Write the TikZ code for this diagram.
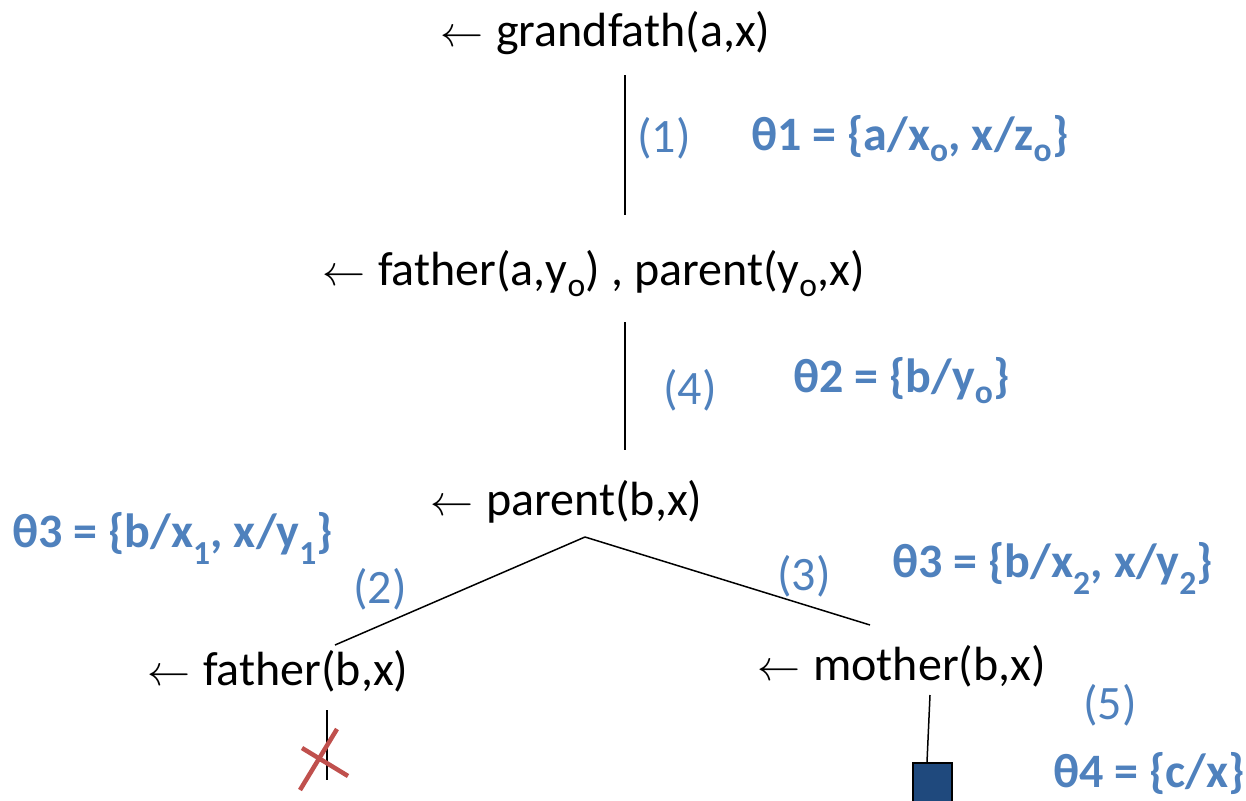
\documentclass[tikz,border=0pt]{standalone}
\usepackage{fontspec}
\setmainfont{Carlito}
\definecolor{lblue}{HTML}{4F81BD}
\definecolor{xred}{HTML}{C0504D}
\definecolor{boxblue}{HTML}{1F497D}
\newcommand{\lar}{\resizebox{43pt}{!}{$\leftarrow$}\hspace{13pt}}
\newcommand{\sbo}[1]{\raisebox{-0.08em}{\textsubscript{#1}}}
\begin{document}
\begin{tikzpicture}[x=1pt,y=-1pt,
  goal/.style={anchor=base west, inner sep=0pt, font=\fontsize{48}{54}\selectfont},
  steplbl/.style={anchor=base west, inner sep=0pt, text=lblue, font=\fontsize{48}{54}\selectfont},
  subst/.style={anchor=base west, inner sep=0pt, text=lblue, font=\fontsize{48}{54}\selectfont\bfseries},
  edge/.style={draw=black, line width=1.5pt},
  cross/.style={draw=xred, line width=4.5pt},
]
\useasboundingbox (0,0) rectangle (1246,800);

% goals
\node[goal] (g0) at (440,47) {\lar grandfath(a,x)};
\node[goal] (g1) at (322,285) {\lar father(a,y\sbo{o}) , parent(y\sbo{o},x)};
\node[goal] (g2) at (430,515) {\lar parent(b,x)};
\node[goal] (g3) at (147,685) {\lar father(b,x)};
\node[goal] (g4) at (757,680) {\lar mother(b,x)};

% step labels
\node[steplbl] (s1) at (637,152) {(1)};
\node[steplbl] (s4) at (663,404) {(4)};
\node[steplbl] (s2) at (353,603) {(2)};
\node[steplbl] (s3) at (777,590) {(3)};
\node[steplbl] (s5) at (1083,719) {(5)};

% substitutions
\node[subst] (t1) at (751,150) {θ1 = \{a/x\sbo{o}, x/z\sbo{o}\}};
\node[subst] (t2) at (793,392) {θ2 = \{b/y\sbo{o}\}};
\node[subst] (t3a) at (12,547) {θ3 = \{b/x\sbo{1}, x/y\sbo{1}\}};
\node[subst] (t3b) at (892,577) {θ3 = \{b/x\sbo{2}, x/y\sbo{2}\}};
\node[subst] (t4) at (1053,787) {θ4 = \{c/x\}};

% connector end points
\coordinate (a0) at (625,75);
\coordinate (a1) at (625,215);
\coordinate (b0) at (625,322);
\coordinate (b1) at (625,450);
\coordinate (c0) at (585,537);
\coordinate (c1) at (335,645);
\coordinate (c2) at (870,625);
\coordinate (d0) at (327,710);
\coordinate (d1) at (327,780);
\coordinate (e0) at (930,695);
\coordinate (e1) at (927,762);

\draw[edge] (a0) -- (a1);
\draw[edge] (b0) -- (b1);
\draw[edge] (c0) -- (c1);
\draw[edge] (c0) -- (c2);
\draw[edge] (d0) -- (d1);
\draw[edge] (e0) -- (e1);

% failure cross
\coordinate (x1) at (300,790);
\coordinate (x2) at (337,729);
\coordinate (x3) at (302,748);
\coordinate (x4) at (348,776);
\draw[cross] (x1) -- (x2);
\draw[cross] (x3) -- (x4);

% success box
\node[draw=black, line width=1.5pt, fill=boxblue, minimum width=39pt, minimum height=50pt, inner sep=0pt, anchor=north] (ok) at (932.5,762) {};
\end{tikzpicture}
\end{document}
